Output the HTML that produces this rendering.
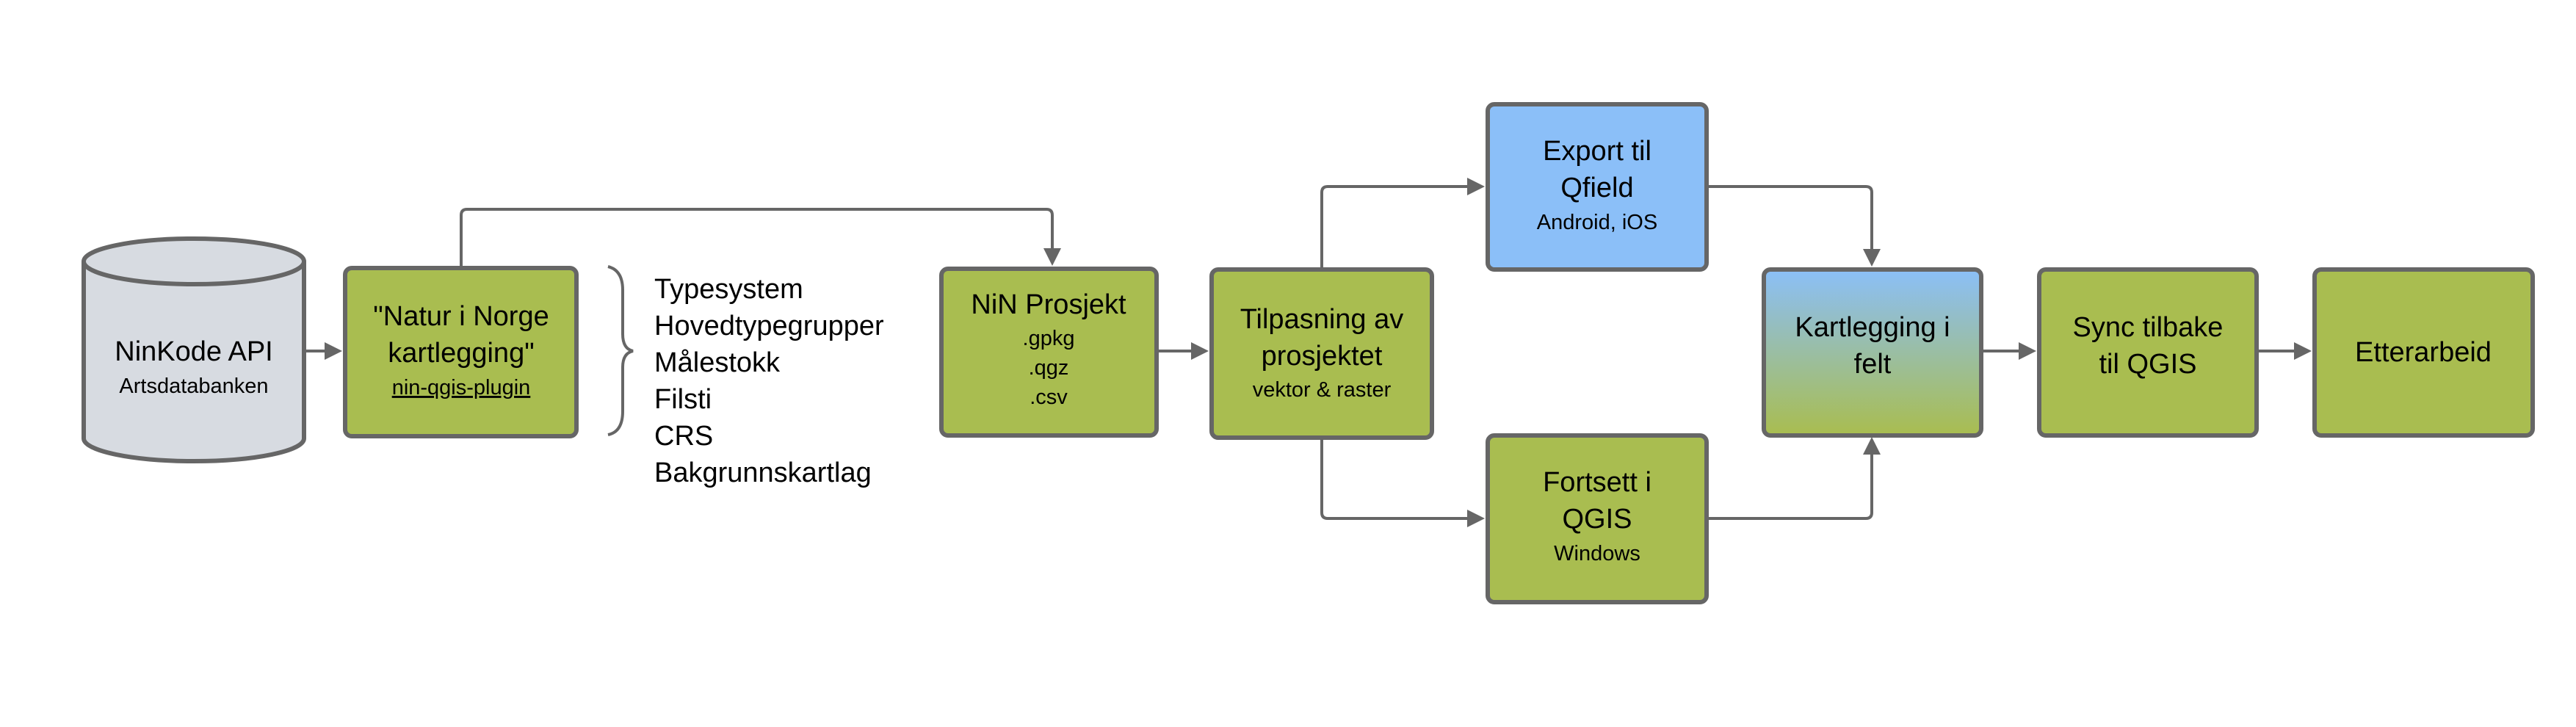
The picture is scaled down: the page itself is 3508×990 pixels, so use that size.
<!DOCTYPE html>
<html><head><meta charset="utf-8"><style>
html,body{margin:0;padding:0;background:#fff;}
svg{display:block;}
text{font-family:"Liberation Sans",sans-serif;fill:#000;text-anchor:middle;}
.m{font-size:38px;} .s{font-size:29px;} .l{font-size:38px;text-anchor:start;}
</style></head><body>
<svg width="3508" height="990" viewBox="0 0 3508 990" xmlns="http://www.w3.org/2000/svg">
<defs>
<linearGradient id="g" x1="0" y1="0" x2="0" y2="1">
<stop offset="0" stop-color="#8bbff8"/><stop offset="1" stop-color="#a9bd4f"/>
</linearGradient>
<marker id="a" markerWidth="6" markerHeight="6" refX="5" refY="3" orient="auto" markerUnits="strokeWidth">
<path d="M0,0 L6,3 L0,6 z" fill="#666"/></marker>
</defs>
<g stroke="#666" stroke-width="4" fill="none">
<path d="M628,363 V293 Q628,285 636,285 H1425 Q1433,285 1433,293 V358" marker-end="url(#a)"/>
<path d="M416,478 H462" marker-end="url(#a)"/>
<path d="M1576,478 H1642" marker-end="url(#a)"/>
<path d="M1800,366 V262 Q1800,254 1808,254 H2018" marker-end="url(#a)"/>
<path d="M1800,596 V698 Q1800,706 1808,706 H2018" marker-end="url(#a)"/>
<path d="M2325,254 H2541 Q2549,254 2549,262 V359" marker-end="url(#a)"/>
<path d="M2325,706 H2541 Q2549,706 2549,698 V599" marker-end="url(#a)"/>
<path d="M2699,478 H2769" marker-end="url(#a)"/>
<path d="M3074,478 H3144" marker-end="url(#a)"/>
</g>
<g stroke="#666" stroke-width="6" fill="#d7dbe1">
<path d="M114,356 V597 A150,31 0 0 0 414,597 V356"/>
<ellipse cx="264" cy="356" rx="150" ry="31"/>
</g>
<text class="m" x="264" y="491">NinKode API</text>
<text class="s" x="264" y="535">Artsdatabanken</text>
<g stroke="#666" stroke-width="6">
<rect x="470" y="365" width="315" height="229" rx="9" fill="#a9bd50"/>
<rect x="1282" y="366" width="293" height="227" rx="9" fill="#a9bd50"/>
<rect x="1650" y="367" width="300" height="229" rx="9" fill="#a9bd50"/>
<rect x="2026" y="142" width="298" height="225" rx="9" fill="#8bbff8"/>
<rect x="2026" y="593" width="298" height="227" rx="9" fill="#a9bd50"/>
<rect x="2402" y="367" width="296" height="226" rx="9" fill="url(#g)"/>
<rect x="2777" y="367" width="296" height="226" rx="9" fill="#a9bd50"/>
<rect x="3152" y="367" width="297" height="226" rx="9" fill="#a9bd50"/>
</g>
<text class="m" x="628" y="443">"Natur i Norge</text>
<text class="m" x="628" y="493">kartlegging"</text>
<text class="s" x="628" y="537" text-decoration="underline">nin-qgis-plugin</text>
<path d="M828,363 Q848,368 848,395 V455 Q848,475 862,478 Q848,481 848,500 V560 Q848,588 828,592" stroke="#666" stroke-width="4" fill="none"/>
<text class="l" x="891" y="406">Typesystem</text>
<text class="l" x="891" y="456">Hovedtypegrupper</text>
<text class="l" x="891" y="506">Målestokk</text>
<text class="l" x="891" y="556">Filsti</text>
<text class="l" x="891" y="606">CRS</text>
<text class="l" x="891" y="656">Bakgrunnskartlag</text>
<text class="m" x="1428" y="427">NiN Prosjekt</text>
<text class="s" x="1428" y="470">.gpkg</text>
<text class="s" x="1428" y="510">.qgz</text>
<text class="s" x="1428" y="550">.csv</text>
<text class="m" x="1800" y="447">Tilpasning av</text>
<text class="m" x="1800" y="497">prosjektet</text>
<text class="s" x="1800" y="540">vektor &amp; raster</text>
<text class="m" x="2175" y="218">Export til</text>
<text class="m" x="2175" y="268">Qfield</text>
<text class="s" x="2175" y="312">Android, iOS</text>
<text class="m" x="2175" y="669">Fortsett i</text>
<text class="m" x="2175" y="719">QGIS</text>
<text class="s" x="2175" y="763">Windows</text>
<text class="m" x="2550" y="458">Kartlegging i</text>
<text class="m" x="2550" y="508">felt</text>
<text class="m" x="2925" y="458">Sync tilbake</text>
<text class="m" x="2925" y="508">til QGIS</text>
<text class="m" x="3300" y="492">Etterarbeid</text>
</svg>
</body></html>
